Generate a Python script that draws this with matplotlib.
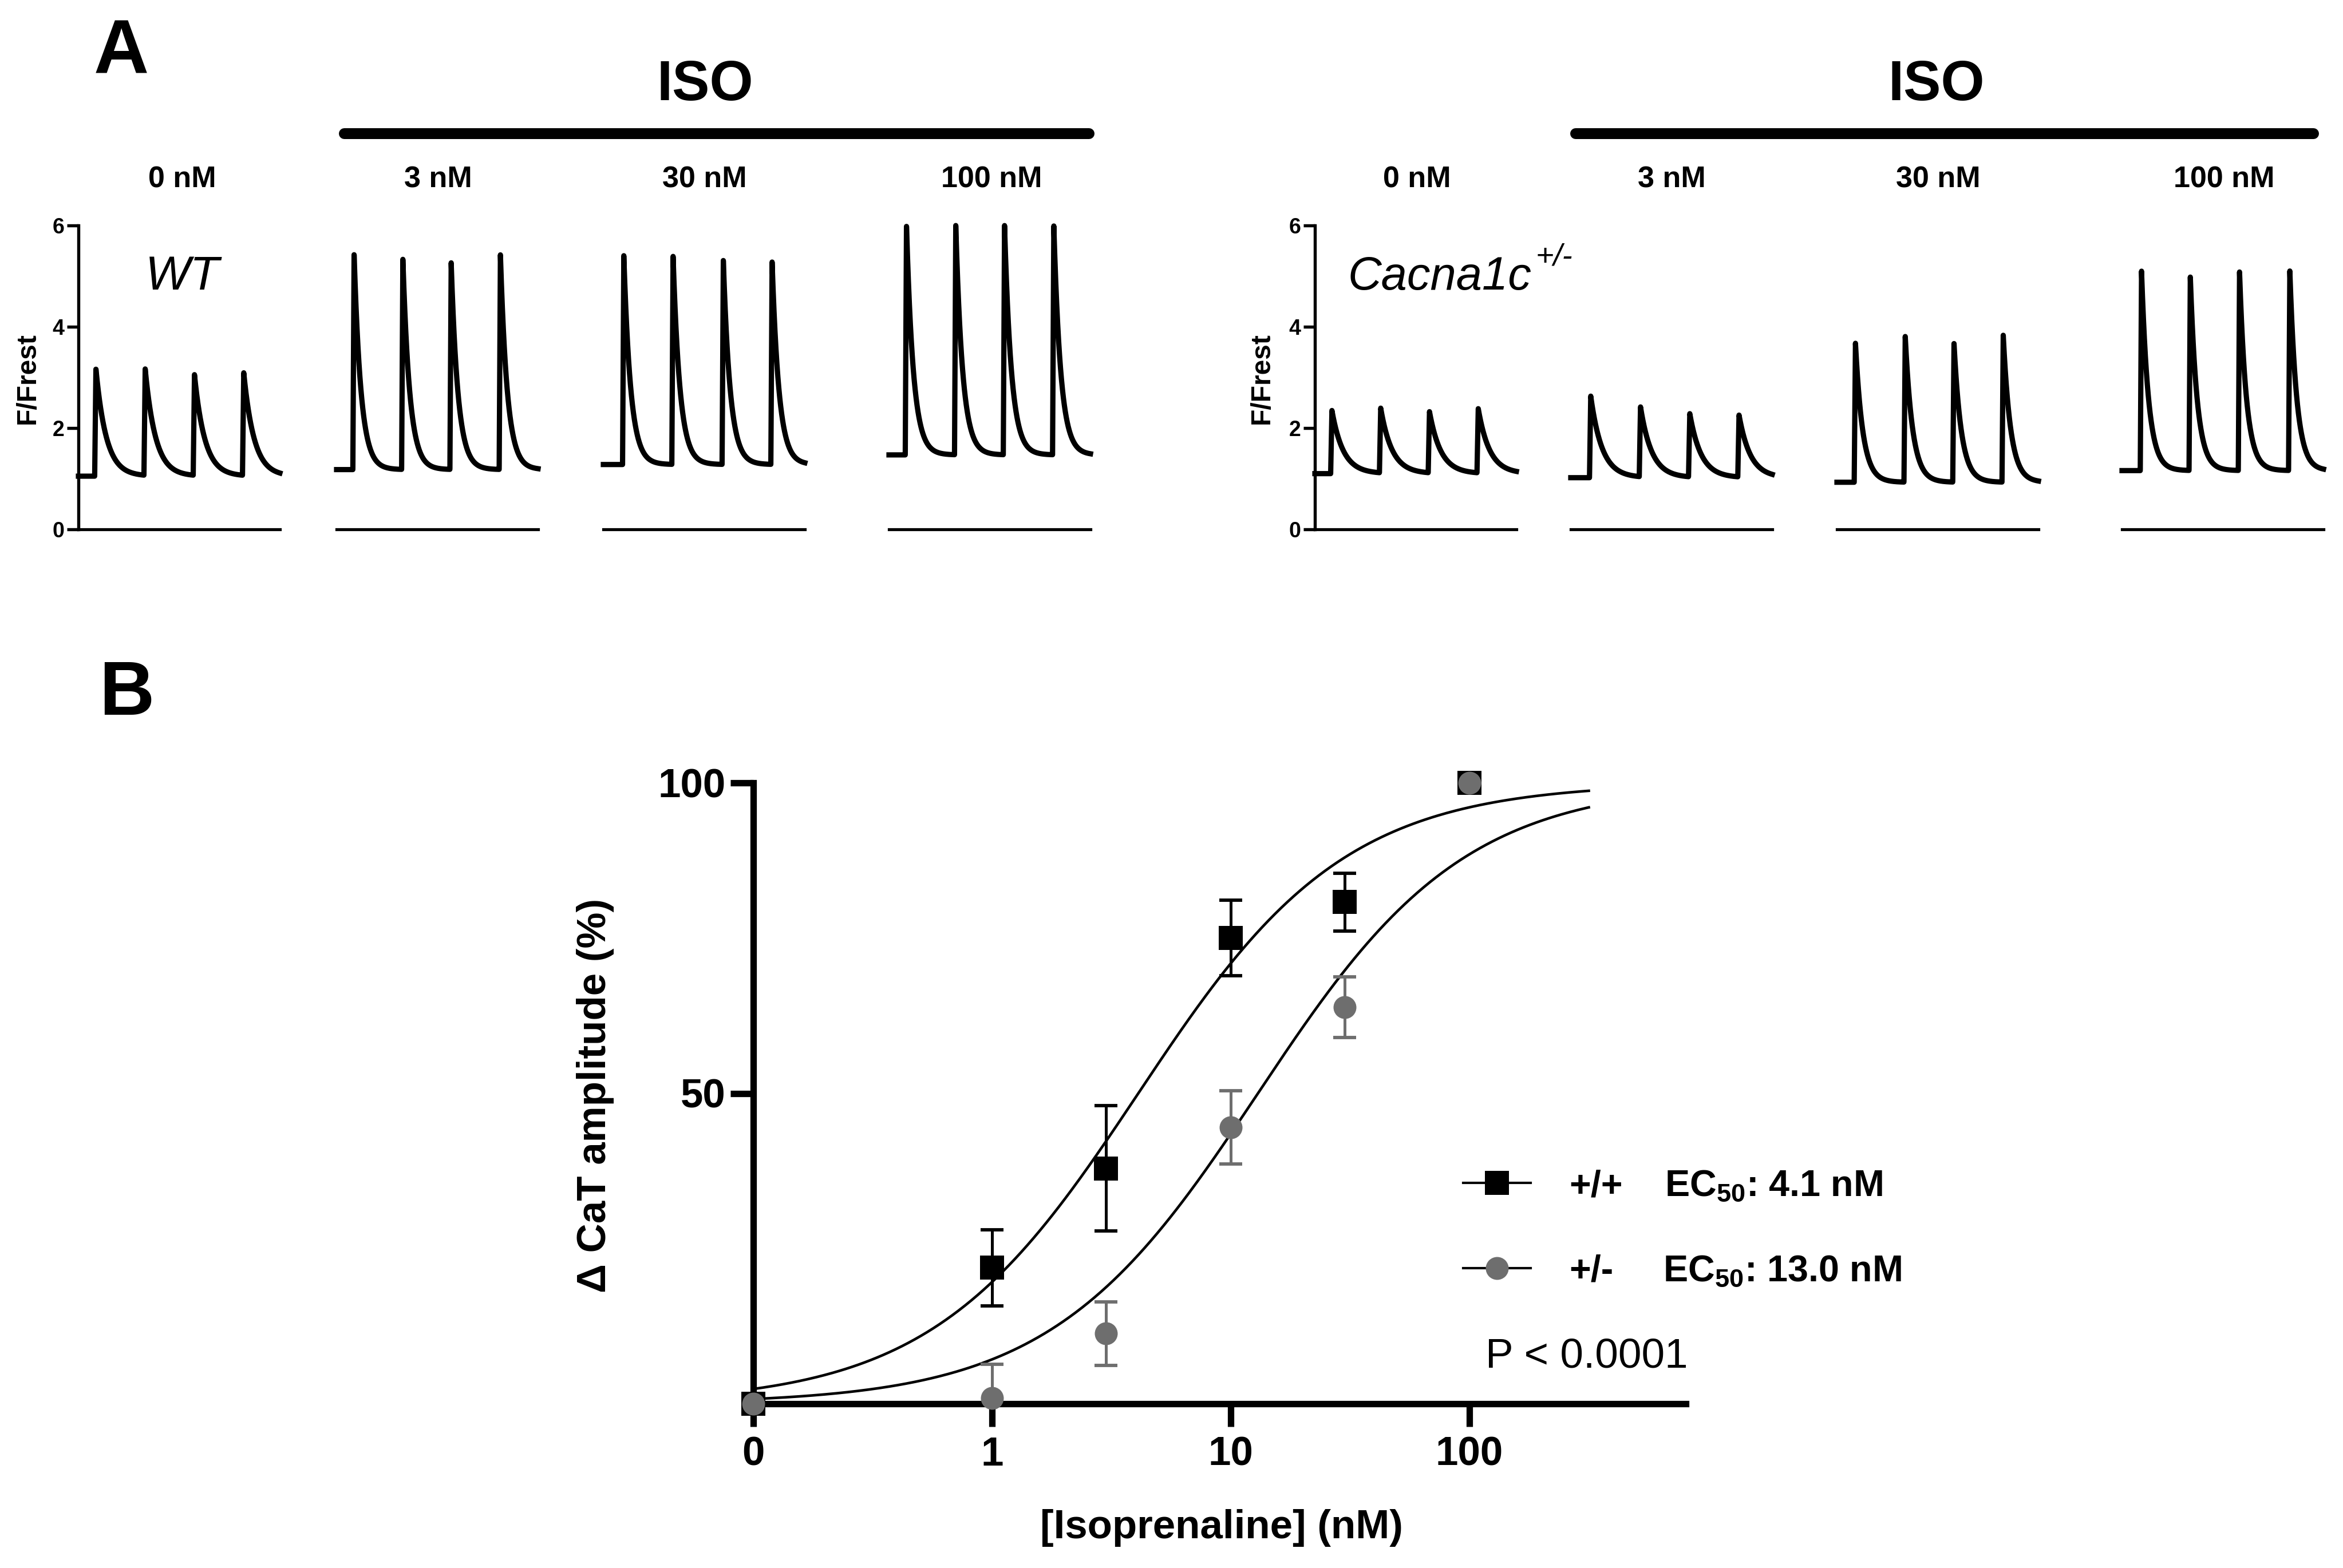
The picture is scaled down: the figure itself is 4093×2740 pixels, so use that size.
import numpy as np
import matplotlib
matplotlib.use('Agg')
import matplotlib.pyplot as plt
from matplotlib.lines import Line2D
from matplotlib.ticker import NullLocator

plt.rcParams['font.family'] = ['Liberation Sans', 'DejaVu Sans']
plt.rcParams['mathtext.fontset'] = 'custom'
plt.rcParams['mathtext.rm'] = 'Liberation Sans'
plt.rcParams['mathtext.it'] = 'Liberation Sans:italic'
plt.rcParams['mathtext.bf'] = 'Liberation Sans:bold'

# ---------------- Panel A data ----------------
conc_labels = ['0 nM', '3 nM', '30 nM', '100 nM']
trace_duration = 4.09          # s (1 Hz pacing)

wt_onsets = [[0.33, 1.33, 2.33, 3.33], [0.33, 1.32, 2.30, 3.30],
             [0.39, 1.39, 2.41, 3.40], [0.33, 1.33, 2.32, 3.32]]
wt_peaks = [[3.17, 3.15, 3.04, 3.08], [5.44, 5.34, 5.28, 5.42],
            [5.41, 5.40, 5.31, 5.28], [6.00, 6.00, 6.00, 6.00]]
wt_baseline = [1.05, 1.18, 1.28, 1.47]
wt_tau = [0.21, 0.14, 0.14, 0.14]

het_onsets = [[0.32, 1.31, 2.30, 3.29], [0.38, 1.39, 2.39, 3.39],
              [0.35, 1.36, 2.35, 3.35], [0.37, 1.36, 2.36, 3.38]]
het_peaks = [[2.35, 2.38, 2.31, 2.37], [2.63, 2.40, 2.27, 2.24],
             [3.68, 3.82, 3.68, 3.83], [5.12, 5.00, 5.08, 5.12]]
het_baseline = [1.10, 1.02, 0.93, 1.16]
het_tau = [0.23, 0.23, 0.15, 0.14]

trace_yticks = [0, 2, 4, 6]

# ---------------- Panel B data ----------------
iso_conc = [0, 1, 3, 10, 30, 100]          # nM
wt_mean = [0, 21.9, 37.9, 75.0, 80.8, 100]
wt_sem = [0, 6.1, 10.1, 6.1, 4.65, 0]
het_mean = [0, 0.9, 11.3, 44.5, 63.9, 100]
het_sem = [0, 5.5, 5.1, 5.9, 4.9, 0]
ec50_wt = 4.1
ec50_het = 13.0
hill_slope = 1.0
xtick_vals = [0, 1, 10, 100]
xtick_labels = ['0', '1', '10', '100']
ytick_vals = [50, 100]

# ---------------- figure helpers ----------------
W, H = 4093, 2740
DPI = 300
fig = plt.figure(figsize=(W / DPI, H / DPI), dpi=DPI)
PT = 72.0 / DPI  # points per pixel


def fx(x):
    return x / W


def fy(y):
    return 1 - y / H


def ca_trace(t, onsets, peaks, base, tau, rise=0.025):
    y = np.full_like(t, base)
    for on, pk in zip(onsets, peaks):
        dt = t - on
        g = np.where(dt < 0, 0.0,
                     np.where(dt < rise, dt / rise, np.exp(-(dt - rise) / tau)))
        y = y + (pk - base) * g
    return y


# ---------------- Panel A ----------------
trace_w_px = 352
y0_px, y6_px = 925, 394
groups = [
    dict(xs=[137, 588, 1054, 1553], on=wt_onsets, pk=wt_peaks, base=wt_baseline,
         tau=wt_tau, label_x=[318, 765, 1231, 1732], iso_x=1232, bar=(591, 1911),
         ylab_x=48),
    dict(xs=[2297, 2744, 3209, 3707], on=het_onsets, pk=het_peaks, base=het_baseline,
         tau=het_tau, label_x=[2475, 2920, 3386, 3885], iso_x=3383, bar=(2742, 4050),
         ylab_x=2204),
]

t = np.linspace(0, trace_duration, 4000)
for g in groups:
    for i in range(4):
        ax = fig.add_axes([fx(g['xs'][i]), fy(y0_px), trace_w_px / W, (y0_px - y6_px) / H])
        ax.plot(t, ca_trace(t, g['on'][i], g['pk'][i], g['base'][i], g['tau'][i]),
                color='black', lw=2.2, clip_on=False)
        ax.set_xlim(0, trace_duration)
        ax.set_ylim(0, 6)
        ax.patch.set_visible(False)
        for s in ['top', 'right']:
            ax.spines[s].set_visible(False)
        ax.spines['bottom'].set_linewidth(1.25)
        ax.set_xticks([])
        if i == 0:
            ax.spines['left'].set_linewidth(1.3)
            ax.set_yticks(trace_yticks)
            ax.set_yticklabels([str(v) for v in trace_yticks], fontweight='bold', fontsize=9)
            ax.tick_params(axis='y', length=4.8, width=1.3, pad=1.0)
        else:
            ax.spines['left'].set_visible(False)
            ax.set_yticks([])
        fig.text(fx(g['label_x'][i]), fy(328), conc_labels[i], ha='center', va='baseline',
                 fontsize=12.5, fontweight='bold')
    # F/Frest label
    fig.text(fx(g['ylab_x']), fy(661), 'F/Frest', rotation=90, ha='center', va='center',
             fontsize=11.5, fontweight='bold')
    # ISO bar and text
    b0, b1 = g['bar']
    lw_bar = 19 * PT
    fig.add_artist(Line2D([fx(b0 + 9.5), fx(b1 - 9.5)], [fy(233), fy(233)],
                          transform=fig.transFigure, color='black', lw=lw_bar,
                          solid_capstyle='round'))
    fig.text(fx(g['iso_x']), fy(175), 'ISO', ha='center', va='baseline',
             fontsize=23.5, fontweight='bold')

fig.text(fx(254), fy(506), 'WT', ha='left', va='baseline', fontsize=20, fontstyle='italic')
fig.text(fx(2355), fy(506), 'Cacna1c', ha='left', va='baseline', fontsize=19.5, fontstyle='italic')
fig.text(fx(2683), fy(463), '+/-', ha='left', va='baseline', fontsize=13, fontstyle='italic')

fig.text(fx(164), fy(129), 'A', ha='left', va='baseline', fontsize=32, fontweight='bold')
fig.text(fx(173), fy(1249), 'B', ha='left', va='baseline', fontsize=32, fontweight='bold')

# ---------------- Panel B ----------------
zero_pos = 0.1  # position used for 0 nM on the log axis
xleft_px, xright_px = 1316, 2945
ytop_px, ybot_px = 1368, 2453
axb = fig.add_axes([fx(xleft_px), fy(ybot_px), (xright_px - xleft_px) / W,
                    (ybot_px - ytop_px) / H])
axb.set_xscale('log')
decade_px = 417.0
log_right = (xright_px - xleft_px) / decade_px - 1.0
axb.set_xlim(zero_pos, 10 ** log_right)
axb.set_ylim(0, 100)
axb.patch.set_visible(False)
for s in ['top', 'right']:
    axb.spines[s].set_visible(False)
for s in ['left', 'bottom']:
    axb.spines[s].set_linewidth(2.7)

xplot = [c if c > 0 else zero_pos for c in iso_conc]
xc = np.logspace(np.log10(zero_pos), 2.5, 400)
gray = '#6e6e6e'


def hill(x, ec50, n):
    return 100.0 / (1.0 + (ec50 / x) ** n)


axb.plot(xc, hill(xc, ec50_wt, hill_slope), color='black', lw=1.1, zorder=2)
axb.plot(xc, hill(xc, ec50_het, hill_slope), color='black', lw=1.1, zorder=2)

axb.errorbar(xplot, wt_mean, yerr=wt_sem, fmt='none', ecolor='black', elinewidth=1.2,
             capsize=4.9, capthick=1.4, zorder=2.2)
axb.errorbar(xplot, het_mean, yerr=het_sem, fmt='none', ecolor=gray, elinewidth=1.2,
             capsize=4.9, capthick=1.4, zorder=2.2)
axb.plot(xplot, wt_mean, 's', color='black', ms=10, mew=0, clip_on=False, zorder=3)
axb.plot(xplot, het_mean, 'o', color=gray, ms=9.6, mew=0, clip_on=False, zorder=3.1)

axb.set_xticks([v if v > 0 else zero_pos for v in xtick_vals])
axb.set_xticklabels(xtick_labels, fontsize=17, fontweight='bold')
axb.xaxis.set_minor_locator(NullLocator())
axb.set_yticks(ytick_vals)
axb.set_yticklabels([str(v) for v in ytick_vals], fontsize=17, fontweight='bold')
axb.tick_params(axis='both', length=9.6, width=2.7)
axb.tick_params(axis='x', pad=4)
axb.tick_params(axis='y', pad=2)

fig.text(fx(1040), fy(1914), 'Δ CaT amplitude (%)', rotation=90, ha='center', va='center',
         fontsize=17, fontweight='bold')
fig.text(fx(2134), fy(2670), '[Isoprenaline] (nM)', ha='center', va='center',
         fontsize=17, fontweight='bold')

# legend
leg_rows = [(2067, 's', 'black', 10, '+/+', r'EC$_{\mathbf{50}}$: 4.1 nM', 2090, 2908),
            (2216, 'o', gray, 9.6, '+/-', r'EC$_{\mathbf{50}}$: 13.0 nM', 2239, 2905)]
for yc, mk, col, ms, lab, ectxt, ybase, ecx in leg_rows:
    fig.add_artist(Line2D([fx(2556), fx(2674)], [fy(yc), fy(yc)], transform=fig.transFigure,
                          color='black', lw=1.0))
    fig.add_artist(Line2D([fx(2615)], [fy(yc)], transform=fig.transFigure, marker=mk,
                          color=col, ms=ms, mew=0, linestyle='none'))
    fig.text(fx(2741), fy(ybase), lab, ha='left', va='baseline', fontsize=15.5, fontweight='bold')
    fig.text(fx(ecx), fy(ybase), ectxt, ha='left', va='baseline', fontsize=15.5, fontweight='bold')

fig.text(fx(2595), fy(2390), 'P < 0.0001', ha='left', va='baseline', fontsize=17.5)

fig.savefig('out.png', dpi=DPI)
